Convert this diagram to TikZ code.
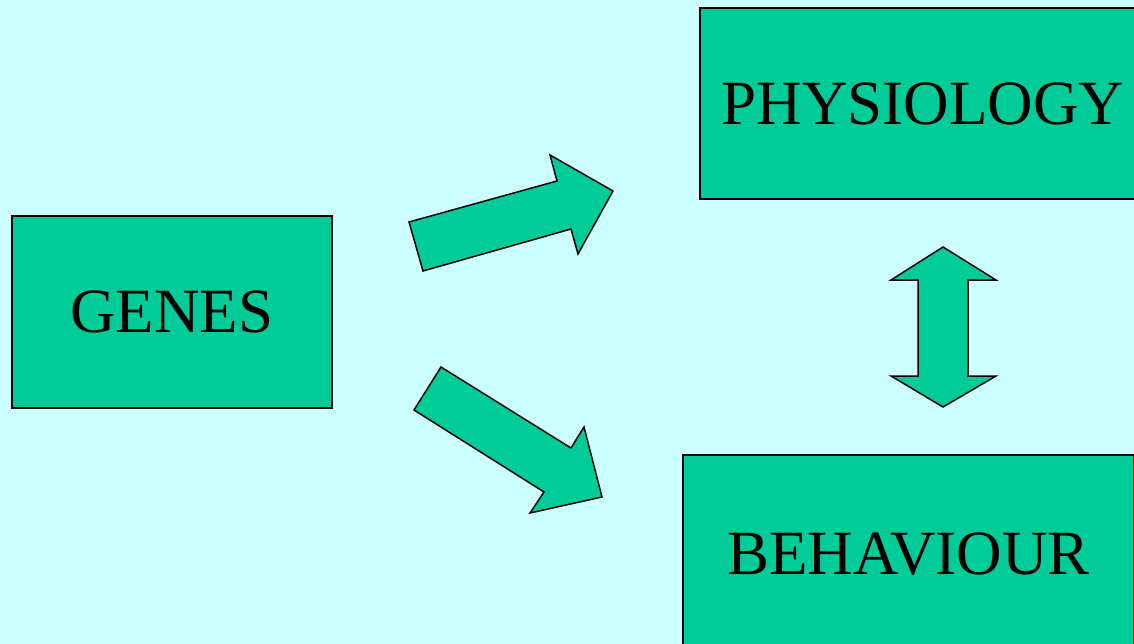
\documentclass[tikz,border=0pt]{standalone}
\usepackage{fontspec}
\setmainfont{Liberation Serif}
\definecolor{bgc}{HTML}{CCFFFF}
\definecolor{boxc}{HTML}{00CC99}
\begin{document}
\begin{tikzpicture}[x=1pt,y=-1pt,
  box/.style={draw=black,line width=1.5pt,fill=boxc,inner sep=0pt,
    font=\fontsize{63}{63}\selectfont,text=black},
  arrowshape/.style={draw=black,line width=1.5pt,fill=boxc,line join=miter}]
\useasboundingbox (0,0) rectangle (1134,644);
\fill[bgc] (0,0) rectangle (1134,644);
% boxes
\node[box,minimum width=320pt,minimum height=192pt] (genes) at (172,312) {GENES};
\node[box,minimum width=446pt,minimum height=191pt] (phys) at (923,103.5) {PHYSIOLOGY};
\node[box,minimum width=451pt,minimum height=199pt] (behav) at (908.5,554.5) {BEHAVIOUR};
% block arrows
\draw[arrowshape] (409,222) -- (557,181) -- (550,155) -- (613,191) -- (578,254) -- (571,229) -- (423,271) -- cycle;
\draw[arrowshape] (441,367) -- (571,448) -- (584,427) -- (602,497) -- (530,513) -- (544,492) -- (414,410) -- cycle;
\draw[arrowshape] (943,247) -- (996,280) -- (968,280) -- (968,376) -- (996,376) -- (943,407) -- (891,376) -- (918,376) -- (918,280) -- (891,280) -- cycle;
\end{tikzpicture}
\end{document}
